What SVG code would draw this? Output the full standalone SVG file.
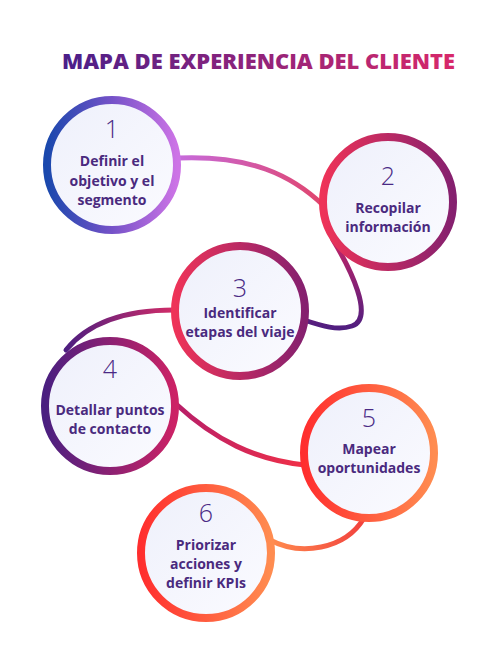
<svg xmlns="http://www.w3.org/2000/svg" width="500" height="658" viewBox="0 0 500 658">
<style>
.title{font-family:"Open Sans","Liberation Sans",sans-serif;font-weight:800;font-size:21.5px}
.num{font-family:"Open Sans","Liberation Sans",sans-serif;font-weight:300;font-size:25px;fill:#4a2a85;text-anchor:middle}
.lbl{font-family:"Open Sans","Noto Sans","Liberation Sans",sans-serif;font-weight:700;font-size:14px;fill:#4a2a7e;text-anchor:middle}
.ring{stroke-width:8}
.conn{fill:none;stroke-width:5;stroke-linecap:round}
</style>
<defs>
<linearGradient id="fill" x1="0" y1="0" x2="1" y2="1"><stop offset="0" stop-color="#eef0fb"/><stop offset="1" stop-color="#fbfbff"/></linearGradient>
<linearGradient id="tg" x1="62" y1="0" x2="455" y2="0" gradientUnits="userSpaceOnUse"><stop offset="0" stop-color="#4a1f8a"/><stop offset="1" stop-color="#d8286a"/></linearGradient>
<linearGradient id="g1" x1="0" y1="0" x2="1" y2="0"><stop offset="0" stop-color="#1a48ad"/><stop offset="0.5" stop-color="#7552c8"/><stop offset="1" stop-color="#cd74e6"/></linearGradient>
<linearGradient id="g2" x1="0" y1="0" x2="1" y2="0"><stop offset="0" stop-color="#ee3358"/><stop offset="1" stop-color="#85206f"/></linearGradient>
<linearGradient id="g4" x1="0" y1="0" x2="1" y2="0"><stop offset="0" stop-color="#4a1f80"/><stop offset="1" stop-color="#cc2265"/></linearGradient>
<linearGradient id="g5" x1="0" y1="0" x2="1" y2="0"><stop offset="0" stop-color="#ff2e2e"/><stop offset="1" stop-color="#ff8c50"/></linearGradient>
<linearGradient id="c1" x1="182" y1="0" x2="322" y2="0" gradientUnits="userSpaceOnUse"><stop offset="0" stop-color="#c76ad9"/><stop offset="1" stop-color="#e0456e"/></linearGradient>
<linearGradient id="c2" x1="0" y1="240" x2="0" y2="330" gradientUnits="userSpaceOnUse"><stop offset="0" stop-color="#c22468"/><stop offset="1" stop-color="#4e1e80"/></linearGradient>
<linearGradient id="c3" x1="172" y1="0" x2="65" y2="0" gradientUnits="userSpaceOnUse"><stop offset="0" stop-color="#d02c68"/><stop offset="1" stop-color="#4c1e80"/></linearGradient>
<linearGradient id="c4" x1="178" y1="0" x2="303" y2="0" gradientUnits="userSpaceOnUse"><stop offset="0" stop-color="#b81f68"/><stop offset="1" stop-color="#f03048"/></linearGradient>
<linearGradient id="c5" x1="362" y1="0" x2="272" y2="0" gradientUnits="userSpaceOnUse"><stop offset="0" stop-color="#f2433e"/><stop offset="1" stop-color="#ff8a4e"/></linearGradient>
</defs>
<rect width="500" height="658" fill="#ffffff"/>
<text class="title" x="62" y="69" fill="url(#tg)" textLength="393" lengthAdjust="spacingAndGlyphs">MAPA DE EXPERIENCIA DEL CLIENTE</text>
<g id="connectors">
<path class="conn" stroke="url(#c1)" d="M178,158 C250,155 292,175 324,206"/>
<path class="conn" stroke="url(#c2)" d="M333,240 C350,268 375,318 352,326 C338,331 322,326 304,320"/>
<path class="conn" stroke="url(#c3)" d="M174,310 C130,310 90,320 66,350"/>
<path class="conn" stroke="url(#c4)" d="M176,404 C215,440 255,460 305,465"/>
<path class="conn" stroke="url(#c5)" d="M364,518 C345,550 300,556 270,540"/>
</g>
<g id="node1">
<circle class="ring" cx="112" cy="165" r="65" fill="url(#fill)" stroke="url(#g1)"/>
<text class="num" x="112" y="138">1</text>
<text class="lbl" x="112" y="166">Definir el</text>
<text class="lbl" x="112" y="186">objetivo y el</text>
<text class="lbl" x="112" y="205">segmento</text>
</g>
<g id="node2">
<circle class="ring" cx="388" cy="202" r="65" fill="url(#fill)" stroke="url(#g2)"/>
<text class="num" x="388" y="185">2</text>
<text class="lbl" x="388" y="213">Recopilar</text>
<text class="lbl" x="388" y="232">información</text>
</g>
<g id="node3">
<circle class="ring" cx="240" cy="311" r="65" fill="url(#fill)" stroke="url(#g2)"/>
<text class="num" x="240" y="297">3</text>
<text class="lbl" x="240" y="318">Identificar</text>
<text class="lbl" x="240" y="337">etapas del viaje</text>
</g>
<g id="node4">
<circle class="ring" cx="110" cy="406" r="65" fill="url(#fill)" stroke="url(#g4)"/>
<text class="num" x="110" y="378">4</text>
<text class="lbl" x="110" y="415">Detallar puntos</text>
<text class="lbl" x="110" y="434">de contacto</text>
</g>
<g id="node5">
<circle class="ring" cx="369" cy="453" r="65" fill="url(#fill)" stroke="url(#g5)"/>
<text class="num" x="369" y="427">5</text>
<text class="lbl" x="369" y="454">Mapear</text>
<text class="lbl" x="369" y="473">oportunidades</text>
</g>
<g id="node6">
<circle class="ring" cx="206" cy="553" r="65" fill="url(#fill)" stroke="url(#g5)"/>
<text class="num" x="206" y="522">6</text>
<text class="lbl" x="206" y="550">Priorizar</text>
<text class="lbl" x="206" y="569">acciones y</text>
<text class="lbl" x="206" y="588">definir KPIs</text>
</g>
</svg>
